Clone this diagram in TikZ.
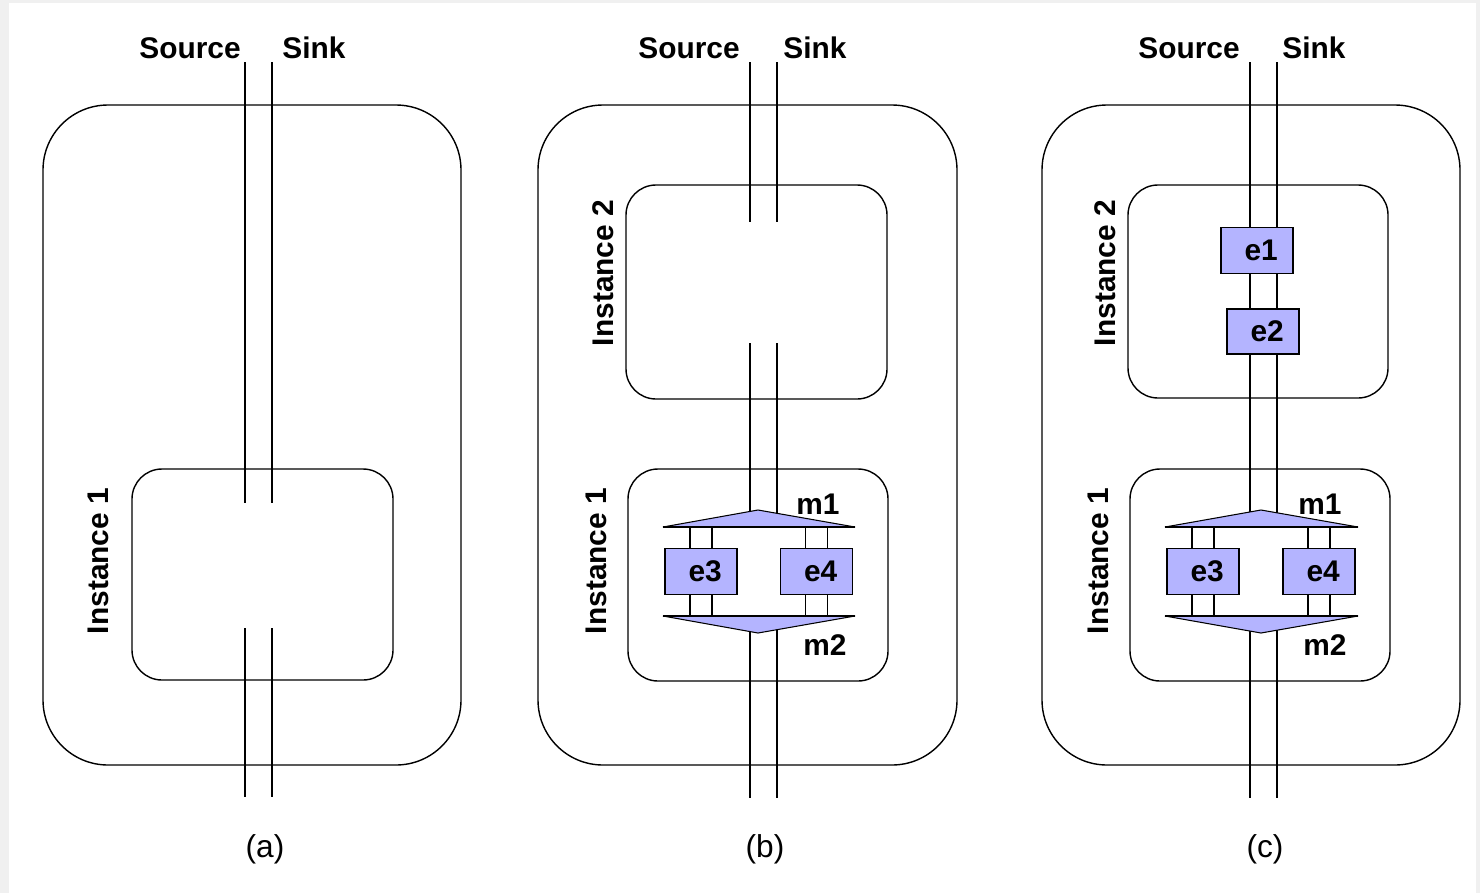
\documentclass[tikz,border=0pt]{standalone}
\usepackage{fontspec}
\setmainfont{Liberation Sans}
\definecolor{lav}{RGB}{180,180,255}
\tikzset{
	outerbox/.style={draw,line width=0.8pt,rounded corners=1.3cm},
	instbox/.style={draw,line width=0.8pt,rounded corners=0.6cm},
	wire/.style={line width=0.9pt},
	ebox/.style={draw,fill=lav,line width=0.9pt,minimum width=1.44cm,minimum height=0.92cm,inner sep=0pt,font=\fontsize{17}{20}\selectfont\bfseries},
	mtri/.style={draw,fill=lav,line width=0.6pt},
	lbl/.style={inner sep=0pt,font=\fontsize{17}{20}\selectfont\bfseries},
	inst/.style={lbl,rotate=90},
	subcap/.style={inner sep=0pt,font=\fontsize{18}{21}\selectfont}
}
\begin{document}
\begin{tikzpicture}[x=0.02cm,y=-0.02cm]
	\fill[gray!12] (0,0) rectangle (1480,893);
	\fill[white] (9,3) rectangle (1476,893);
	\useasboundingbox (0,0) rectangle (1480,893);

	% (a)
	\draw[outerbox] (43,105) rectangle (461,765);
	\draw[instbox] (132,469) rectangle (393,680);
	\coordinate (srcA) at (245,62);
	\coordinate (snkA) at (272,62);
	\coordinate (srcAo) at (245,797);
	\coordinate (snkAo) at (272,797);
	\draw[wire] (srcA) -- (245,503);
	\draw[wire] (snkA) -- (272,503);
	\draw[wire] (245,628) -- (srcAo);
	\draw[wire] (272,628) -- (snkAo);
	\node[lbl,anchor=east] (sourceA) at (241,48) {Source};
	\node[lbl,anchor=west] (sinkA) at (282,48) {Sink};
	\node[inst] (inst1A) at (98,561) {Instance 1};
	\node[subcap] (capA) at (265,849) {(a)};

	% (b)
	\draw[outerbox] (538,105) rectangle (957,765);
	\draw[instbox] (626,185) rectangle (887,399);
	\draw[instbox] (628,469) rectangle (888,681);
	\coordinate (srcB) at (750,62);
	\coordinate (snkB) at (777,62);
	\coordinate (srcBo) at (750,798);
	\coordinate (snkBo) at (777,798);
	\draw[wire] (srcB) -- (750,222);
	\draw[wire] (snkB) -- (777,222);
	\draw[wire] (750,343) -- (750,516);
	\draw[wire] (777,343) -- (777,516);
	\draw[wire] (750,628) -- (srcBo);
	\draw[wire] (777,628) -- (snkBo);

	\node[ebox] (e3B) at (701,571.5) {\ e3};
	\node[ebox] (e4B) at (816.5,571.5) {\ e4};
	\draw[wire] ([xshift=-0.22cm]e3B.north) -- ++(0,-22);
	\draw[wire] ([xshift=0.22cm]e3B.north) -- ++(0,-22);
	\draw[wire] ([xshift=-0.22cm]e4B.north) -- ++(0,-22);
	\draw[wire] ([xshift=0.22cm]e4B.north) -- ++(0,-22);
	\draw[wire] ([xshift=-0.22cm]e3B.south) -- ++(0,22);
	\draw[wire] ([xshift=0.22cm]e3B.south) -- ++(0,22);
	\draw[wire] ([xshift=-0.22cm]e4B.south) -- ++(0,22);
	\draw[wire] ([xshift=0.22cm]e4B.south) -- ++(0,22);
	\draw[mtri] (663,527) -- (758,510) -- (855,527) -- cycle;
	\draw[wire] (663,527) -- (855,527);
	\draw[mtri] (663,616) -- (758,633) -- (855,616) -- cycle;
	\draw[wire] (663,616) -- (855,616);

	\node[lbl,anchor=east] (sourceB) at (740,48) {Source};
	\node[lbl,anchor=west] (sinkB) at (783,48) {Sink};
	\node[inst] (inst2B) at (603,273) {Instance 2};
	\node[inst] (inst1B) at (596,561) {Instance 1};
	\node[lbl] (m1B) at (818,504) {m1};
	\node[lbl] (m2B) at (825,645) {m2};
	\node[subcap] (capB) at (765,849) {(b)};

	% (c)
	\draw[outerbox] (1042,105) rectangle (1460,765);
	\draw[instbox] (1128,185) rectangle (1388,398);
	\draw[instbox] (1130,469) rectangle (1390,681);
	\node[ebox] (e1C) at (1257,250.5) {\ e1};
	\node[ebox,minimum height=0.9cm] (e2C) at (1263,331.5) {\ e2};
	\coordinate (srcC) at (1250,62);
	\coordinate (snkC) at (1277,62);
	\coordinate (srcCo) at (1250,798);
	\coordinate (snkCo) at (1277,798);
	\draw[wire] (srcC) -- (srcC |- e1C.north);
	\draw[wire] (snkC) -- (snkC |- e1C.north);
	\draw[wire] (srcC |- e1C.south) -- (srcC |- e2C.north);
	\draw[wire] (snkC |- e1C.south) -- (snkC |- e2C.north);
	\draw[wire] (srcC |- e2C.south) -- (1250,516);
	\draw[wire] (snkC |- e2C.south) -- (1277,516);
	\draw[wire] (1250,628) -- (srcCo);
	\draw[wire] (1277,628) -- (snkCo);

	\node[ebox] (e3C) at (1203,571.5) {\ e3};
	\node[ebox] (e4C) at (1319,571.5) {\ e4};
	\draw[wire] ([xshift=-0.22cm]e3C.north) -- ++(0,-22);
	\draw[wire] ([xshift=0.22cm]e3C.north) -- ++(0,-22);
	\draw[wire] ([xshift=-0.22cm]e4C.north) -- ++(0,-22);
	\draw[wire] ([xshift=0.22cm]e4C.north) -- ++(0,-22);
	\draw[wire] ([xshift=-0.22cm]e3C.south) -- ++(0,22);
	\draw[wire] ([xshift=0.22cm]e3C.south) -- ++(0,22);
	\draw[wire] ([xshift=-0.22cm]e4C.south) -- ++(0,22);
	\draw[wire] ([xshift=0.22cm]e4C.south) -- ++(0,22);
	\draw[mtri] (1165,527) -- (1261,510) -- (1358,527) -- cycle;
	\draw[wire] (1165,527) -- (1358,527);
	\draw[mtri] (1165,616) -- (1261,633) -- (1358,616) -- cycle;
	\draw[wire] (1165,616) -- (1358,616);

	\node[lbl,anchor=east] (sourceC) at (1240,48) {Source};
	\node[lbl,anchor=west] (sinkC) at (1282,48) {Sink};
	\node[inst] (inst2C) at (1105,273) {Instance 2};
	\node[inst] (inst1C) at (1098,561) {Instance 1};
	\node[lbl] (m1C) at (1320,504) {m1};
	\node[lbl] (m2C) at (1325,645) {m2};
	\node[subcap] (capC) at (1265,849) {(c)};
\end{tikzpicture}
\end{document}
